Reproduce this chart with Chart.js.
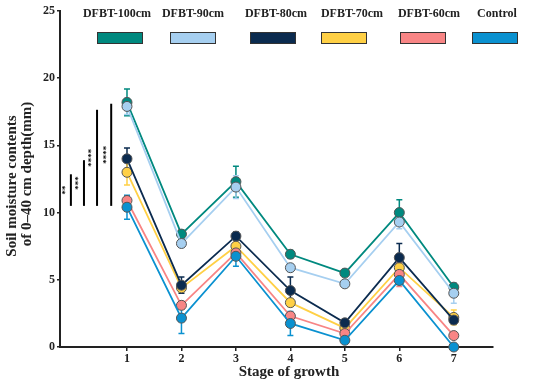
<!DOCTYPE html>
<html>
<head>
<meta charset="utf-8">
<script src="https://cdn.jsdelivr.net/npm/chart.js@4"></script>
<style>
  html, body { margin: 0; padding: 0; background: #fff; }
  #wrap { width: 550px; height: 383px; }
</style>
</head>
<body>
<div id="wrap"><canvas id="chart" width="550" height="383"></canvas></div>
<script>
// values
const stages = [1, 2, 3, 4, 5, 6, 7];
const seriesNames = ['DFBT-100cm', 'DFBT-90cm', 'DFBT-80cm', 'DFBT-70cm', 'DFBT-60cm', 'Control'];

const dfbt100 = [18.2, 8.4, 12.3, 6.9, 5.5, 10.0, 4.45];
const dfbt90 = [17.9, 7.7, 11.9, 5.9, 4.7, 9.3, 4.0];
const dfbt80 = [14.0, 4.6, 8.25, 4.2, 1.8, 6.65, 2.0];
const dfbt70 = [13.0, 4.4, 7.5, 3.3, 1.4, 5.9, 2.2];
const dfbt60 = [10.9, 3.1, 7.0, 2.3, 1.0, 5.4, 0.85];
const control = [10.4, 2.15, 6.75, 1.75, 0.5, 4.95, 0.0];

// error bar half widths (SD)
const err100 = [1.0, 0.3, 1.15, 0.3, 0.2, 0.95, 0.3];
const err90 = [0.6, 0.3, 0.85, 0.3, 0.2, 0.5, 0.75];
const err80 = [0.8, 0.6, 0.3, 1.0, 0.2, 1.05, 0.3];
const err70 = [0.95, 0.3, 0.3, 0.3, 0.2, 0.3, 0.55];
const err60 = [0.35, 0.3, 0.3, 0.2, 0.2, 0.9, 0.2];
const errControl = [0.9, 1.15, 0.75, 0.9, 0.2, 0.3, 0.1];

// significance brackets at stage 1
const sigX = [-0.03, 0.21, 0.45, 0.71];
const sigLow = [10.5, 10.5, 10.5, 10.5];
const sigHigh = [12.85, 13.9, 17.65, 18.1];
const sigLabels = ['**', '***', '****', '****'];

const colors = ['#00897f', '#a6cff0', '#0b2b4f', '#ffd045', '#f88585', '#0a91d0'];
// stacking of markers as in the figure (higher = on top)
const drawRank = [0, 1, 3, 2, 4, 5];
const allValues = [dfbt100, dfbt90, dfbt80, dfbt70, dfbt60, control];
const allErrors = [err100, err90, err80, err70, err60, errControl];

const serif = "'Liberation Serif', 'DejaVu Serif', serif";
const ink = '#222';

let datasets = [];
for (let i = 0; i < seriesNames.length; i++) {
    datasets.push({
        label: seriesNames[i],
        data: stages.map((s, j) => ({x: s, y: allValues[i][j]})),
        errors: allErrors[i],
        borderColor: colors[i],
        backgroundColor: colors[i],
        borderWidth: 1.8,
        pointRadius: 5,
        pointBorderWidth: 1,
        pointBorderColor: '#555',
        pointBackgroundColor: colors[i],
        clip: false,
        order: seriesNames.length - drawRank[i]
    });
}

// error bars behind the markers
const errorBars = {
    id: 'errorBars',
    beforeDatasetsDraw(chart) {
        const ctx = chart.ctx;
        const xs = chart.scales.x, ys = chart.scales.y;
        ctx.save();
        chart.data.datasets.forEach(ds => {
            ctx.strokeStyle = ds.borderColor;
            ctx.lineWidth = 1.5;
            ds.data.forEach((p, j) => {
                const e = ds.errors[j];
                const px = xs.getPixelForValue(p.x);
                const top = ys.getPixelForValue(p.y + e);
                const bot = ys.getPixelForValue(Math.max(0, p.y - e));
                ctx.beginPath();
                ctx.moveTo(px, top); ctx.lineTo(px, bot);
                ctx.moveTo(px - 3, top); ctx.lineTo(px + 3, top);
                ctx.moveTo(px - 3, bot); ctx.lineTo(px + 3, bot);
                ctx.stroke();
            });
        });
        ctx.restore();
    }
};

// significance lines, legend row and axis titles
const decorations = {
    id: 'decorations',
    afterDraw(chart) {
        const ctx = chart.ctx;
        const xs = chart.scales.x, ys = chart.scales.y;
        ctx.save();

        for (let i = 0; i < sigX.length; i++) {
            const px = xs.getPixelForValue(sigX[i]);
            const y0 = ys.getPixelForValue(sigLow[i]);
            const y1 = ys.getPixelForValue(sigHigh[i]);
            ctx.strokeStyle = '#000';
            ctx.lineWidth = 2;
            ctx.beginPath();
            ctx.moveTo(px, y0); ctx.lineTo(px, y1);
            ctx.stroke();
            ctx.save();
            ctx.translate(px - 5, (y0 + y1) / 2);
            ctx.rotate(-Math.PI / 2);
            ctx.fillStyle = '#000';
            ctx.font = "bold 9px " + serif;
            ctx.textAlign = 'center';
            ctx.textBaseline = 'middle';
            ctx.fillText(sigLabels[i], 0, 0);
            ctx.restore();
        }

        const textX = [117, 193, 276, 352, 429, 497];
        const boxX = [120, 193, 273, 344, 423, 495];
        chart.data.datasets.forEach((ds, i) => {
            ctx.fillStyle = ink;
            ctx.font = "bold 12px " + serif;
            ctx.textAlign = 'center';
            ctx.textBaseline = 'middle';
            ctx.fillText(ds.label, textX[i], 14);
            ctx.fillStyle = ds.backgroundColor;
            ctx.fillRect(boxX[i] - 23, 32, 46, 12);
            ctx.strokeStyle = '#333';
            ctx.lineWidth = 1;
            ctx.strokeRect(boxX[i] - 23 + 0.5, 32.5, 45, 11);
        });

        ctx.fillStyle = ink;
        ctx.font = "bold 15px " + serif;
        ctx.textAlign = 'center';
        ctx.textBaseline = 'middle';
        ctx.fillText('Stage of growth', 289, 372);

        ctx.save();
        ctx.translate(12, 0);
        ctx.rotate(-Math.PI / 2);
        ctx.fillText('Soil moisture contents', -186, 0);
        ctx.fillText('of 0\u201340 cm depth(mm)', -174, 15);
        ctx.restore();

        ctx.restore();
    }
};

new Chart(document.getElementById('chart'), {
    type: 'line',
    data: {datasets: datasets},
    options: {
        responsive: false,
        animation: false,
        devicePixelRatio: 1,
        layout: {padding: {top: 11, right: 57, left: 0, bottom: 0}},
        plugins: {legend: {display: false}, tooltip: {enabled: false}},
        scales: {
            x: {
                type: 'linear',
                min: -0.23,
                max: 7.72,
                afterBuildTicks: scale => { scale.ticks = stages.map(v => ({value: v})); },
                afterFit: scale => { scale.height = 36; },
                grid: {display: true, drawOnChartArea: false, drawTicks: true, tickLength: 4, color: ink, lineWidth: 1.5},
                border: {display: true, color: ink, width: 2},
                ticks: {color: ink, padding: 1, font: {family: serif, size: 12, weight: 'bold'}}
            },
            y: {
                min: 0,
                max: 25,
                afterFit: scale => { scale.width = 60; },
                grid: {display: true, drawOnChartArea: false, drawTicks: true, tickLength: 3, color: ink, lineWidth: 1.5},
                border: {display: true, color: ink, width: 2},
                ticks: {stepSize: 5, color: ink, padding: 2, font: {family: serif, size: 12, weight: 'bold'}}
            }
        }
    },
    plugins: [errorBars, decorations]
});
</script>
</body>
</html>
